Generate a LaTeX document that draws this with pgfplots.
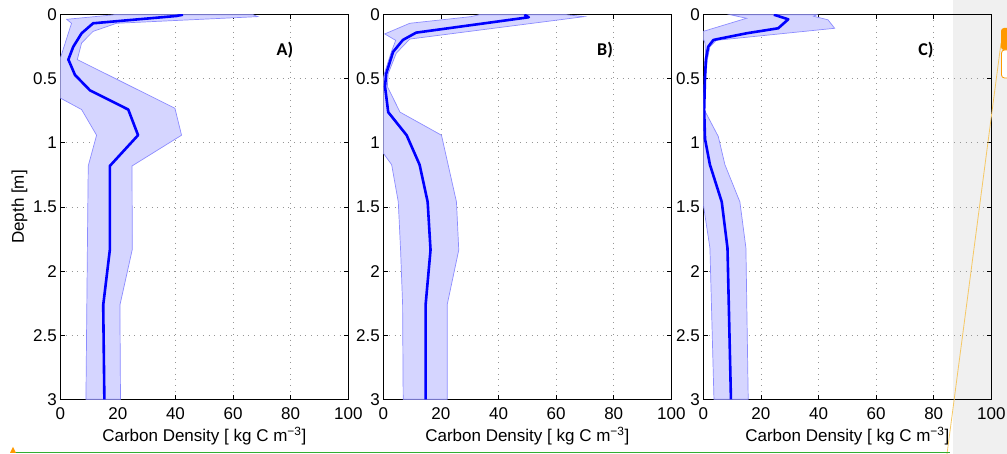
\documentclass[border=0pt]{standalone}
\usepackage{fontspec}
\setmainfont{Liberation Sans}
\newfontfamily\carlito{Carlito}
\usepackage{pgfplots}
\pgfplotsset{compat=1.18}
\definecolor{bandfill}{RGB}{213,213,255}
\definecolor{bandedge}{RGB}{140,140,255}
\definecolor{meanblue}{RGB}{0,0,255}
\definecolor{gridgray}{RGB}{150,150,150}
\definecolor{stripgray}{RGB}{240,240,240}
\definecolor{noteorange}{RGB}{245,200,100}
\newcommand\tfont{\fontsize{17}{20}\selectfont}

\pgfplotsset{
  panel/.style={
    scale only axis, width=288pt, height=384.6pt,
    anchor=south west,
    xmin=0, xmax=100, ymin=0, ymax=3, y dir=reverse,
    xtick={0,20,40,60,80,100}, xticklabels={0,20,40,60,80,100},
    ytick={0,0.5,1,1.5,2,2.5,3}, yticklabels={0,0.5,1,1.5,2,2.5,3},
    tick align=inside, xtick pos=both, ytick pos=both,
    major tick length=4.5pt,
    every tick/.style={black, line width=0.8pt},
    axis line style={black, line width=1.2pt},
    grid=major,
    major grid style={gridgray, line width=0.8pt, dash pattern=on 0.8pt off 4.9pt},
    tick label style={font=\tfont, inner sep=0pt},
    xticklabel style={anchor=north, yshift=-8pt},
    yticklabel style={anchor=east, xshift=-3.3pt},
    /pgf/number format/assume math mode=true,
  },
  band/.style={fill=bandfill, draw=bandedge, line width=0.7pt},
  mean/.style={meanblue, line width=2.6pt, line join=round},
}

\begin{document}
\begin{tikzpicture}
\useasboundingbox (0,0) rectangle (1007pt,454pt);
% grey screen background at the right
\fill[stripgray] (953pt,0) rectangle (1007pt,454pt);

% ---- A ----
\begin{axis}[panel, at={(60.3pt,54.7pt)}]
\addplot[band] coordinates {
  (66.9,0) (68.6,0.015) (19.5,0.067) (11.4,0.13) (7.4,0.22) (5.9,0.35)
  (39.8,0.73) (42.1,0.94) (24.9,1.18) (25.0,1.83) (20.7,2.265) (20.9,3)
  (8.9,3) (9.4,1.83) (9.7,1.18) (12.6,0.94) (7.4,0.74) (0,0.65) (0,0.34)
  (3.9,0.067) (2.2,0.036) (19.0,0)} -- cycle;
\addplot[mean] coordinates {
  (42.6,0) (40.3,0.01) (11.4,0.067) (7.4,0.145) (4.5,0.25) (2.8,0.35)
  (5.1,0.47) (10.3,0.59) (23.6,0.74) (27.0,0.94) (17.2,1.18) (17.2,1.835)
  (14.9,2.265) (15.3,3)};
\node[font=\carlito\bfseries\fontsize{18}{20}\selectfont] at (axis cs:78,0.28) {A)};
\end{axis}

% ---- B ----
\begin{axis}[panel, at={(383.3pt,54.7pt)}]
\addplot[band] coordinates {
  (63.4,0) (69.8,0.015) (9.2,0.19) (4.5,0.3) (1.7,0.46) (1.4,0.56) (5.8,0.76)
  (20.2,0.94) (25.4,1.46) (26.2,1.835) (22.2,2.26) (22.2,3)
  (6.9,3) (6.7,2.26) (6.0,1.835) (5.2,1.46) (2.9,1.17) (0,1.08) (0,0.5)
  (0.5,0.45) (2.8,0.29) (4.3,0.2) (0.5,0.15) (9.2,0.067) (30.5,0.015) (33.4,0)} -- cycle;
\addplot[mean] coordinates {
  (49.0,0) (50.5,0.02) (11.4,0.14) (6.8,0.197) (3.4,0.29) (1.0,0.46)
  (0.6,0.56) (1.7,0.76) (8.1,0.94) (12.6,1.17) (15.4,1.46) (16.4,1.835)
  (14.7,2.26) (14.7,3)};
\node[font=\carlito\bfseries\fontsize{18}{20}\selectfont] at (axis cs:77,0.28) {B)};
\end{axis}

% ---- C ----
\begin{axis}[panel, at={(703.3pt,54.7pt)}]
\addplot[band] coordinates {
  (39.5,0) (38.3,0.012) (43.3,0.04) (45.6,0.106) (4.5,0.2) (2.3,0.25)
  (1.4,0.35) (0.9,0.48) (0.3,0.74) (5.2,0.95) (7.5,1.17) (12.7,1.46)
  (14.8,1.82) (15.6,3)
  (3.7,3) (2.3,1.82) (0,1.48) (0,0.74) (0.2,0.6) (0.4,0.45) (0.8,0.3)
  (0.6,0.22) (0,0.19) (0,0.13) (15.0,0.028) (9.3,0)} -- cycle;
\addplot[mean] coordinates {
  (24.5,0) (29.5,0.036) (26.0,0.106) (15.0,0.145) (3.5,0.197) (1.7,0.25)
  (0.9,0.35) (0.6,0.48) (0.3,0.74) (0.6,0.97) (2.3,1.17) (6.4,1.46)
  (8.4,1.82) (9.6,3)};
\node[font=\carlito\bfseries\fontsize{18}{20}\selectfont] at (axis cs:77.3,0.28) {C)};
\end{axis}

% axis titles
\node[font=\tfont, rotate=90, anchor=center] at (19.5pt,247pt) {Depth [m]};
\foreach \cx in {204.3,527.3,847.3}
  \node[font=\tfont, anchor=base] at (\cx pt,12pt) {Carbon Density [ kg C m\textsuperscript{−3}]};

% screen-capture marks
\draw[noteorange, line width=0.8pt] (947pt,0pt) -- (1001pt,411pt);
\fill[orange!80!yellow, rounded corners=3pt] (1001pt,404pt) rectangle (1012pt,426pt);
\draw[orange!80!yellow, fill=white, line width=0.8pt, rounded corners=3pt] (1001.5pt,376pt) rectangle (1012pt,404pt);
\draw[green!60!black!80, line width=1pt] (13pt,1.5pt) -- (950pt,1.5pt);
\fill[orange!80!yellow] (10pt,1pt) -- (13pt,7pt) -- (16pt,1pt) -- cycle;
\end{tikzpicture}
\end{document}
